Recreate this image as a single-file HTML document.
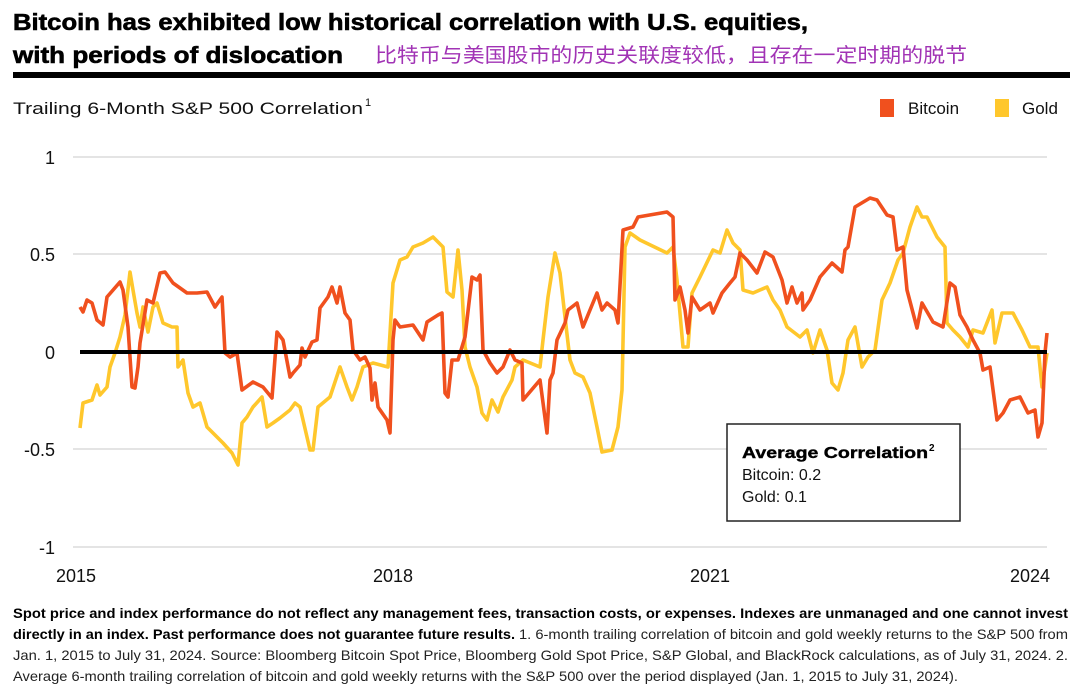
<!DOCTYPE html>
<html><head><meta charset="utf-8"><style>
html,body{margin:0;padding:0;background:#fff;}
svg{display:block;font-family:"Liberation Sans","Noto Sans CJK SC",sans-serif;}
</style></head><body>
<svg width="1080" height="694" viewBox="0 0 1080 694" xmlns="http://www.w3.org/2000/svg">
<text x="13" y="30" font-size="23" font-weight="bold" fill="#000" stroke="#000" stroke-width="0.6" textLength="795" lengthAdjust="spacingAndGlyphs">Bitcoin has exhibited low historical correlation with U.S. equities,</text>
<text x="13" y="63" font-size="23" font-weight="bold" fill="#000" stroke="#000" stroke-width="0.6" textLength="330" lengthAdjust="spacingAndGlyphs">with periods of dislocation</text>
<text x="375" y="62" font-size="20" fill="#a133b5" font-family="'Noto Sans CJK SC',sans-serif" textLength="592" lengthAdjust="spacingAndGlyphs">比特币与美国股市的历史关联度较低，且存在一定时期的脱节</text>
<rect x="13" y="72" width="1057" height="6" fill="#000"/>
<text x="13" y="114" font-size="17" fill="#111" textLength="350" lengthAdjust="spacingAndGlyphs">Trailing 6-Month S&amp;P 500 Correlation</text>
<text x="365" y="106" font-size="11" fill="#111">1</text>
<rect x="880" y="99" width="14" height="18" fill="#f0501e"/>
<text x="908" y="114" font-size="17" fill="#111">Bitcoin</text>
<rect x="995" y="99" width="14" height="18" fill="#ffc72c"/>
<text x="1022" y="114" font-size="17" fill="#111">Gold</text>
<g stroke="#dcdcdc" stroke-width="1.5">
<line x1="73" y1="157" x2="1047" y2="157"/>
<line x1="73" y1="254" x2="1047" y2="254"/>
<line x1="73" y1="449" x2="1047" y2="449"/>
<line x1="73" y1="547" x2="1047" y2="547"/>
</g>
<g font-size="18" fill="#111" text-anchor="end">
<text x="55" y="164">1</text>
<text x="55" y="261">0.5</text>
<text x="55" y="359">0</text>
<text x="55" y="456">-0.5</text>
<text x="55" y="554">-1</text>
</g>
<g font-size="18" fill="#111" text-anchor="middle">
<text x="76" y="582">2015</text>
<text x="393" y="582">2018</text>
<text x="710" y="582">2021</text>
<text x="1030" y="582">2024</text>
</g>
<polyline fill="none" stroke="#ffc72c" stroke-width="3.6" stroke-linejoin="round" points="80,428 83,403 92,400 97,385 100,395 107,387 110,367 115,353 120,337 125,315 130,272 133,290 137,313 140,327 143,307 148,332 153,307 157,303 163,323 172,327 177,327 178,367 183,360 188,393 193,407 200,403 207,427 217,437 223,443 232,453 238,465 242,423 247,417 253,407 262,397 267,427 273,423 280,418 290,410 295,403 300,407 310,450 313,450 318,407 330,397 340,367 347,387 352,400 357,387 363,367 373,363 388,367 393,283 400,260 407,257 413,247 423,243 433,237 443,247 447,292 453,297 458,250 462,290 465,347 470,367 477,387 482,413 487,420 492,400 498,412 503,397 512,380 515,367 523,360 540,367 543,340 548,297 555,253 560,273 565,317 570,360 575,373 583,377 590,393 597,427 602,452 612,450 618,427 622,390 625,247 630,233 640,240 667,253 673,247 677,280 683,347 688,347 692,293 700,277 713,250 720,253 727,230 733,243 740,250 743,290 753,293 767,287 773,300 780,310 787,327 800,337 807,330 813,353 820,330 827,350 832,383 838,390 843,373 848,340 855,327 862,367 868,357 875,350 882,300 890,283 898,260 903,253 910,227 917,207 922,217 927,217 937,237 945,247 947,323 953,330 960,337 968,347 973,330 983,333 992,310 995,343 1002,313 1013,313 1022,330 1030,347 1038,347 1042,387 1047,353"/>
<polyline fill="none" stroke="#f0501e" stroke-width="3.6" stroke-linejoin="round" points="80,307 83,312 87,300 92,303 97,320 103,325 107,297 120,282 123,290 128,327 132,387 135,388 138,367 140,343 147,300 153,303 160,273 165,272 173,283 187,293 197,293 207,292 215,307 222,297 225,353 230,357 237,353 242,390 253,382 263,387 272,398 277,332 283,340 290,377 293,373 300,365 302,348 305,357 312,342 317,340 320,308 328,297 332,287 337,303 340,287 345,313 350,320 353,350 360,360 365,357 370,368 372,400 375,383 378,407 387,420 390,433 393,340 395,320 400,327 413,325 423,340 427,322 438,315 442,313 445,393 448,397 452,360 458,360 465,337 472,277 477,280 480,275 483,350 490,363 497,373 503,367 510,350 515,360 522,363 523,400 540,380 547,433 550,380 553,373 557,340 565,323 568,310 577,303 583,327 597,293 602,310 607,303 615,310 618,323 623,230 633,227 638,217 667,212 673,217 675,300 680,287 685,310 688,333 692,297 700,310 710,303 713,313 722,293 730,283 735,277 740,253 747,260 757,273 765,252 773,257 782,280 787,303 792,287 797,303 802,293 803,310 810,300 820,277 832,263 842,272 845,250 848,247 855,207 870,198 877,200 887,215 893,217 897,250 903,247 907,290 917,328 922,303 933,322 943,327 950,283 955,287 960,315 967,327 973,340 980,353 983,370 990,367 997,420 1003,413 1010,400 1020,397 1028,413 1035,410 1038,437 1042,423 1045,353 1047,333"/>
<line x1="80" y1="352" x2="1047" y2="352" stroke="#000" stroke-width="4"/>
<rect x="727" y="424" width="233" height="97" fill="#fff" stroke="#222" stroke-width="1.5"/>
<text x="742" y="458" font-size="16" font-weight="bold" fill="#000" stroke="#000" stroke-width="0.4" textLength="186" lengthAdjust="spacingAndGlyphs">Average Correlation</text>
<text x="929" y="451" font-size="10" font-weight="bold" fill="#000">2</text>
<text x="742" y="480" font-size="16" fill="#111">Bitcoin: 0.2</text>
<text x="742" y="502" font-size="16" fill="#111">Gold: 0.1</text>
<g font-size="14" fill="#222">
<text x="13" y="618" font-weight="bold" fill="#000" textLength="1055" lengthAdjust="spacingAndGlyphs">Spot price and index performance do not reflect any management fees, transaction costs, or expenses. Indexes are unmanaged and one cannot invest</text>
<text x="13" y="639" font-weight="bold" fill="#000" textLength="502" lengthAdjust="spacingAndGlyphs">directly in an index. Past performance does not guarantee future results.</text>
<text x="519" y="639" textLength="549" lengthAdjust="spacingAndGlyphs">1. 6-month trailing correlation of bitcoin and gold weekly returns to the S&amp;P 500 from</text>
<text x="13" y="660" textLength="1055" lengthAdjust="spacingAndGlyphs">Jan. 1, 2015 to July 31, 2024. Source: Bloomberg Bitcoin Spot Price, Bloomberg Gold Spot Price, S&amp;P Global, and BlackRock calculations, as of July 31, 2024. 2.</text>
<text x="13" y="681" textLength="945" lengthAdjust="spacingAndGlyphs">Average 6-month trailing correlation of bitcoin and gold weekly returns with the S&amp;P 500 over the period displayed (Jan. 1, 2015 to July 31, 2024).</text>
</g>
</svg>
</body></html>
